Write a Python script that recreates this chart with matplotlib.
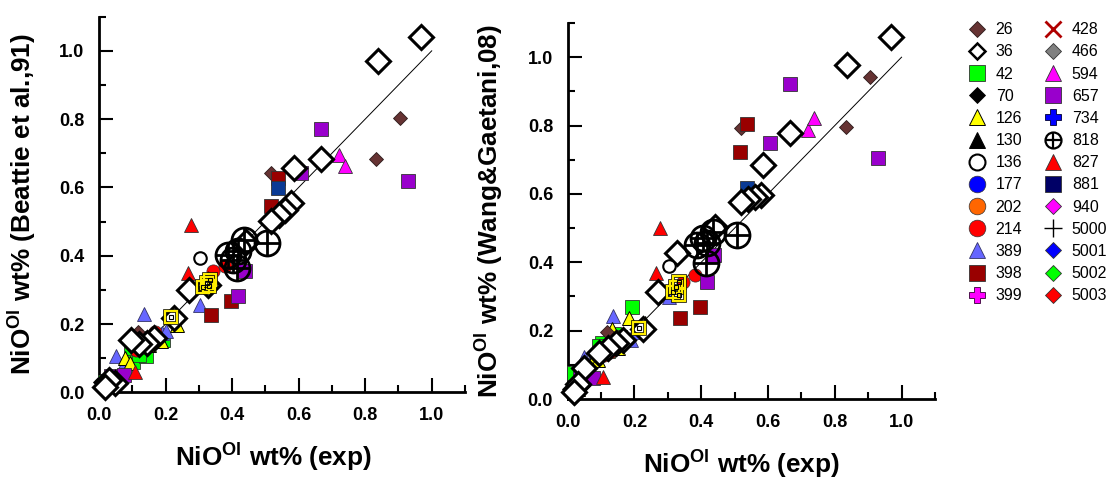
import matplotlib
matplotlib.use('Agg')
import matplotlib.pyplot as plt
from matplotlib.lines import Line2D
from matplotlib.ticker import MultipleLocator

plt.rcParams['font.family'] = ['Liberation Sans', 'DejaVu Sans']
plt.rcParams['mathtext.fontset'] = 'custom'
plt.rcParams['mathtext.rm'] = 'Liberation Sans'
plt.rcParams['mathtext.bf'] = 'Liberation Sans:bold'

# ---- NiO in olivine: experimental values vs. two model predictions ----
# Each run series: experimental NiO (x), Beattie et al. 1991 model, Wang & Gaetani 2008 model
exp_26 = [0.904, 0.834, 0.518, 0.118]
bea_26 = [0.804, 0.684, 0.641, 0.178]
wan_26 = [0.941, 0.795, 0.792, 0.195]

exp_36 = [0.967, 0.838, 0.666, 0.586, 0.578, 0.560, 0.540, 0.518, 0.442, 0.328,
          0.271, 0.225, 0.165, 0.145, 0.120, 0.095, 0.048, 0.030, 0.018]
bea_36 = [1.042, 0.971, 0.684, 0.658, 0.555, 0.535, 0.518, 0.501, 0.440, 0.315,
          0.300, 0.217, 0.160, 0.145, 0.142, 0.152, 0.026, 0.035, 0.015]
wan_36 = [1.060, 0.977, 0.778, 0.685, 0.597, 0.590, 0.585, 0.577, 0.504, 0.426,
          0.314, 0.205, 0.173, 0.163, 0.148, 0.134, 0.090, 0.045, 0.020]

exp_42 = [0.193, 0.103, 0.140, 0.158, 0.095, 0.018, 0.120]
bea_42 = [0.152, 0.088, 0.105, 0.160, 0.130, 0.030, 0.110]
wan_42 = [0.268, 0.163, 0.190, 0.182, 0.155, 0.075, 0.140]

exp_70 = [0.006, 0.020, 0.032, 0.045]
bea_70 = [0.030, 0.008, 0.022, 0.040]
wan_70 = [0.030, 0.006, 0.022, 0.040]

exp_126 = [0.233, 0.078, 0.185, 0.133, 0.092, 0.150, 0.030]
bea_126 = [0.198, 0.100, 0.150, 0.150, 0.085, 0.140, 0.025]
wan_126 = [0.222, 0.119, 0.238, 0.204, 0.114, 0.150, 0.030]

exp_136 = [0.303]
bea_136 = [0.393]
wan_136 = [0.390]

exp_214 = [0.344, 0.380, 0.168, 0.128, 0.160, 0.110]
bea_214 = [0.354, 0.369, 0.178, 0.134, 0.160, 0.125]
wan_214 = [0.343, 0.363, 0.173, 0.138, 0.168, 0.130]

exp_389 = [0.135, 0.305, 0.190, 0.050, 0.200, 0.078]
bea_389 = [0.230, 0.256, 0.173, 0.105, 0.180, 0.090]
wan_389 = [0.244, 0.298, 0.173, 0.124, 0.197, 0.129]

exp_398 = [0.538, 0.516, 0.336, 0.397]
bea_398 = [0.628, 0.545, 0.227, 0.266]
wan_398 = [0.804, 0.724, 0.238, 0.268]

exp_594 = [0.720, 0.738]
bea_594 = [0.694, 0.662]
wan_594 = [0.787, 0.821]

exp_657 = [0.666, 0.607, 0.929, 0.417, 0.438, 0.036, 0.075]
bea_657 = [0.770, 0.643, 0.618, 0.283, 0.354, 0.048, 0.051]
wan_657 = [0.922, 0.750, 0.706, 0.343, 0.421, 0.061, 0.061]

exp_818 = [0.436, 0.506, 0.388, 0.418, 0.415, 0.404]
bea_818 = [0.447, 0.437, 0.403, 0.413, 0.364, 0.388]
wan_818 = [0.490, 0.480, 0.451, 0.456, 0.397, 0.470]

exp_827 = [0.276, 0.266, 0.107]
bea_827 = [0.491, 0.349, 0.060]
wan_827 = [0.500, 0.370, 0.065]

exp_881 = [0.537]
bea_881 = [0.597]
wan_881 = [0.618]

# boxed yellow symbols along the 1:1 line
exp_box = [0.334, 0.324, 0.314, 0.332, 0.215]
bea_box = [0.330, 0.320, 0.308, 0.310, 0.222]
wan_box = [0.343, 0.329, 0.314, 0.304, 0.208]

legend_labels = ['26', '36', '42', '70', '126', '130', '136', '177', '202', '214',
                 '389', '398', '399', '428', '466', '594', '657', '734', '818',
                 '827', '881', '940', '5000', '5001', '5002', '5003']

# marker styles per series (legend size)
STY = {
    '26':   dict(marker='D', mfc='#663333', mec='#2b1a1a', ms=8.6, mew=0.6),
    '36':   dict(marker='D', mfc='white', mec='black', ms=8.0, mew=1.8),
    '42':   dict(marker='s', mfc='#00ff00', mec='#333333', ms=11.5, mew=0.6),
    '70':   dict(marker='D', mfc='black', mec='black', ms=8.6, mew=0.6),
    '126':  dict(marker='^', mfc='#ffff00', mec='black', ms=12, mew=0.7),
    '130':  dict(marker='^', mfc='black', mec='black', ms=12, mew=0.7),
    '136':  dict(marker='o', mfc='white', mec='black', ms=11.5, mew=1.5),
    '177':  dict(marker='o', mfc='#0000ff', mec='#333333', ms=12, mew=0.5),
    '202':  dict(marker='o', mfc='#ff6600', mec='#333333', ms=12, mew=0.5),
    '214':  dict(marker='o', mfc='#ff0000', mec='#333333', ms=12, mew=0.5),
    '389':  dict(marker='^', mfc='#6666ff', mec='#333366', ms=12, mew=0.6),
    '398':  dict(marker='s', mfc='#990000', mec='#333333', ms=11.5, mew=0.6),
    '399':  dict(marker='P', mfc='#ff00ff', mec='#330033', ms=12, mew=0.6),
    '428':  dict(marker='x', mfc='#cc0000', mec='#b00000', ms=11, mew=2.0),
    '466':  dict(marker='D', mfc='#808080', mec='#333333', ms=8.6, mew=0.6),
    '594':  dict(marker='^', mfc='#ff00ff', mec='#333333', ms=12, mew=0.6),
    '657':  dict(marker='s', mfc='#9900cc', mec='#333333', ms=11.5, mew=0.6),
    '734':  dict(marker='P', mfc='#0000ff', mec='#000033', ms=12, mew=0.6),
    '818':  dict(marker='o', mfc='none', mec='black', ms=11.5, mew=1.6),
    '827':  dict(marker='^', mfc='#ff0000', mec='#333333', ms=12, mew=0.6),
    '881':  dict(marker='s', mfc='#000066', mec='#333333', ms=11.5, mew=0.6),
    '940':  dict(marker='D', mfc='#ff00ff', mec='#333333', ms=8.6, mew=0.6),
    '5000': dict(marker='+', mfc='black', mec='black', ms=13, mew=1.0),
    '5001': dict(marker='D', mfc='#0000ff', mec='#333333', ms=8.6, mew=0.6),
    '5002': dict(marker='D', mfc='#00ff00', mec='#333333', ms=8.6, mew=0.6),
    '5003': dict(marker='D', mfc='#ff0000', mec='#333333', ms=8.6, mew=0.6),
}


def mark(ax, x, y, name, ms, mew=None, z=3, color=None):
    st = dict(STY[name])
    st['ms'] = ms
    if mew is not None:
        st['mew'] = mew
    if color is not None:
        st['mfc'] = color
    ax.plot(x, y, ls='none', zorder=z, clip_on=False, **st)


def panel(ax, y26, y36, y42, y70, y126, y136, y214, y389, y398, y594, y657,
          y818, y827, y881, ybox, ylabel):
    ax.plot([0, 1], [0, 1], color='black', lw=0.7, zorder=2)
    mark(ax, exp_70, y70, '70', 8.0)
    mark(ax, exp_42, y42, '42', 10.0)
    mark(ax, exp_389, y389, '389', 10.0)
    mark(ax, exp_126, y126, '126', 10.0)
    mark(ax, exp_214, y214, '214', 9.5)
    mark(ax, exp_26, y26, '26', 6.8)
    mark(ax, exp_398, y398, '398', 10.3)
    mark(ax, exp_881, y881, '881', 10.3, color='#0a3a94')
    mark(ax, exp_657, y657, '657', 10.3)
    mark(ax, exp_594, y594, '594', 10.0)
    mark(ax, exp_827, y827, '827', 10.0)
    mark(ax, exp_36, y36, '36', 12.5, mew=2.2, z=4)
    ax.plot(exp_818, y818, ls='none', marker='o', mfc='none', mec='black',
            ms=18, mew=2.0, zorder=4, clip_on=False)
    ax.plot(exp_818, y818, ls='none', marker='+', mec='black',
            ms=18, mew=2.0, zorder=4, clip_on=False)
    mark(ax, exp_136, y136, '136', 9.0, mew=1.5, z=5)
    ax.plot(exp_box, ybox, ls='none', marker='s', mfc='none', mec='black',
            ms=8.5, mew=2.6, zorder=5, clip_on=False)
    ax.plot(exp_box, ybox, ls='none', marker='s', mfc='none', mec='#ffee00',
            ms=8.5, mew=1.6, zorder=5, clip_on=False)
    ax.plot(exp_box, ybox, ls='none', marker='s', mfc='none', mec='black',
            ms=3.5, mew=0.8, zorder=5, clip_on=False)

    ax.set_xlim(0, 1.1)
    ax.set_ylim(0, 1.1)
    for s in ('top', 'right'):
        ax.spines[s].set_visible(False)
    for s in ('left', 'bottom'):
        ax.spines[s].set_linewidth(2.0)
    ax.xaxis.set_minor_locator(MultipleLocator(0.1))
    ax.yaxis.set_minor_locator(MultipleLocator(0.1))
    ax.tick_params(which='both', direction='in', width=1.5, pad=10.5,
                   labelsize=13, top=False, right=False)
    ax.tick_params(which='major', length=10)
    ax.tick_params(which='minor', length=5)
    ticks = [0.0, 0.2, 0.4, 0.6, 0.8, 1.0]
    tick_text = ['0.0', '0.2', '0.4', '0.6', '0.8', '1.0']
    ax.set_xticks(ticks)
    ax.set_xticklabels(tick_text, fontweight='bold')
    ax.set_yticks(ticks)
    ax.set_yticklabels(tick_text, fontweight='bold')
    ax.set_xlabel(r'NiO$^{\mathbf{Ol}}$ wt% (exp)', fontsize=18.8, fontweight='bold')
    ax.set_ylabel(ylabel, fontsize=18.8, fontweight='bold')


fig = plt.figure(figsize=(11.1, 4.8), dpi=100)
ax1 = fig.add_axes([0.0892, 0.1827, 0.3297, 0.7825])
ax2 = fig.add_axes([0.5114, 0.16875, 0.3309, 0.7833])

panel(ax1, bea_26, bea_36, bea_42, bea_70, bea_126, bea_136, bea_214, bea_389,
      bea_398, bea_594, bea_657, bea_818, bea_827, bea_881, bea_box,
      r'NiO$^{\mathbf{Ol}}$ wt% (Beattie et al.,91)')
panel(ax2, wan_26, wan_36, wan_42, wan_70, wan_126, wan_136, wan_214, wan_389,
      wan_398, wan_594, wan_657, wan_818, wan_827, wan_881, wan_box,
      r'NiO$^{\mathbf{Ol}}$ wt% (Wang&Gaetani,08)')

ax1.xaxis.set_label_coords(0.4776, -0.128)
ax2.xaxis.set_label_coords(0.472, -0.129)
ax1.yaxis.set_label_coords(-0.167, 0.5)
ax2.yaxis.set_label_coords(-0.171, 0.5)

handles = []
for lab in legend_labels:
    h = Line2D([], [], ls='none', **STY[lab])
    if lab == '818':
        h = (h, Line2D([], [], ls='none', marker='+', mec='black', ms=11.5, mew=1.6))
    handles.append(h)

fig.legend(handles, legend_labels, ncol=2, loc='upper left',
           bbox_to_anchor=(0.8713, 0.9538), frameon=False, fontsize=11.5,
           handlelength=1.2, handletextpad=0.59, columnspacing=1.3,
           labelspacing=0.45, borderaxespad=0, borderpad=0)

fig.savefig('out.png', dpi=100)
